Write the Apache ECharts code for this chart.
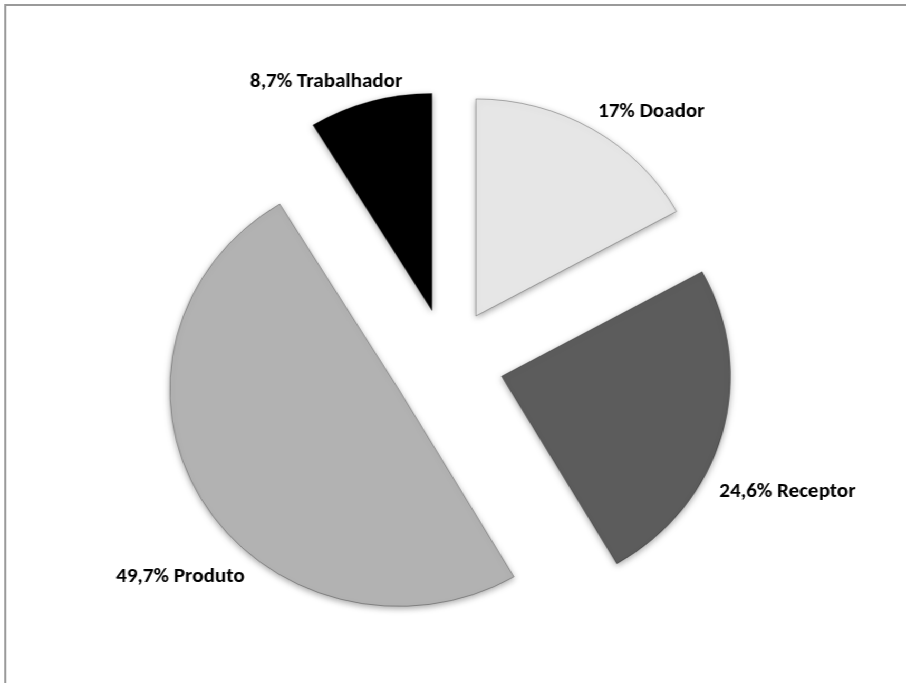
<!DOCTYPE html>
<html>
<head>
<meta charset="utf-8">
<script src="https://cdn.jsdelivr.net/npm/echarts@6/dist/echarts.min.js"></script>
<style>
html,body{margin:0;padding:0;background:#fff;overflow:hidden;}
#wrap{width:906px;height:683px;overflow:hidden;}
#chart{width:859px;height:683px;transform:scaleX(1.0547);transform-origin:0 0;}
</style>
</head>
<body>
<div id="wrap"><div id="chart"></div></div>
<script>
// Data
const categories = ['Doador', 'Receptor', 'Produto', 'Trabalhador'];
const values = [17, 24.6, 49.7, 8.7];
const labelTexts = ['17% Doador', '24,6% Receptor', '49,7% Produto', '8,7% Trabalhador'];
const colors = ['#e6e6e6', '#5c5c5c', '#b2b2b2', '#000000'];
// label anchor positions (text placement only, left-aligned, middle)
const labelPos = [[567, 112], [682, 492], [110, 577], [237, 82]];

const chart = echarts.init(document.getElementById('chart'), null, {renderer: 'canvas'});
const data = categories.map((c, i) => ({
  name: c,
  value: values[i],
  selected: true,
  itemStyle: {color: colors[i]}
}));

const labelFont = {
  fill: '#000',
  fontFamily: 'Carlito, Lato, "Open Sans", sans-serif',
  fontWeight: 'bold',
  fontSize: 20
};

chart.setOption({
  backgroundColor: '#ffffff',
  animation: false,
  graphic: [{
    type: 'rect',
    shape: {x: 5, y: 5, width: 1000, height: 1000},
    style: {fill: 'none', stroke: '#9a9a9a', lineWidth: 2},
    silent: true
  }].concat(labelTexts.map((t, i) => ({
    type: 'text',
    x: labelPos[i][0],
    y: labelPos[i][1],
    zlevel: 1,
    z: 100,
    silent: true,
    style: Object.assign({text: t, align: 'left', verticalAlign: 'middle'}, labelFont)
  }))),
  series: [{
    type: 'pie',
    center: [424, 362],
    radius: [0, 217],
    startAngle: 90,
    clockwise: true,
    selectedMode: 'multiple',
    selectedOffset: 53.5,
    avoidLabelOverlap: false,
    itemStyle: {
      borderColor: 'rgba(0,0,0,0.28)',
      borderWidth: 1,
      shadowBlur: 6,
      shadowColor: 'rgba(0,0,0,0.35)',
      shadowOffsetY: 2
    },
    emphasis: {disabled: true},
    select: {itemStyle: {borderColor: 'rgba(0,0,0,0.28)', borderWidth: 1}},
    label: {show: false},
    labelLine: {show: false},
    data: data
  }]
});
</script>
</body>
</html>
